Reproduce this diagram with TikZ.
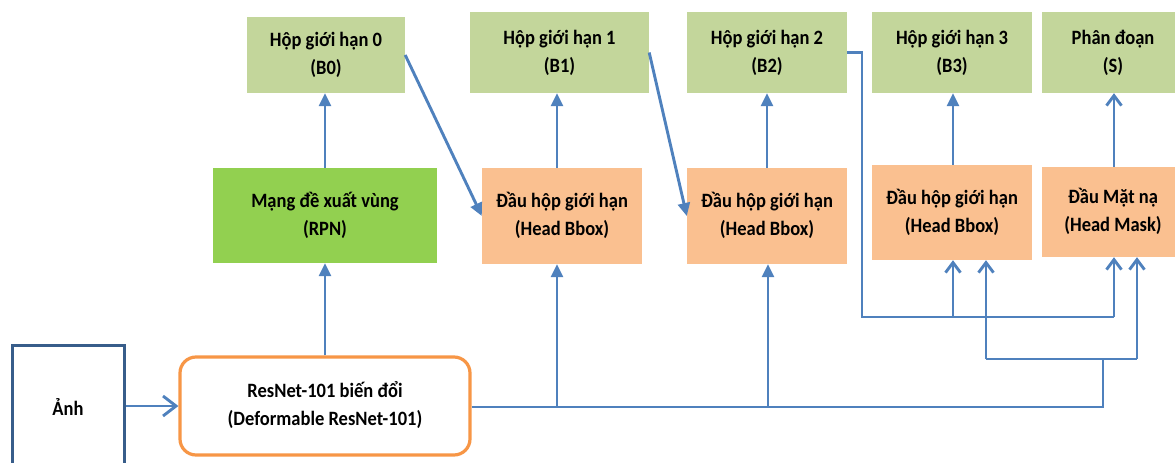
\documentclass[tikz,border=0pt]{standalone}
\usepackage{fontspec}
\setmainfont{Carlito}
\usetikzlibrary{arrows.meta,calc}
\definecolor{lgreen}{HTML}{C3D69B}
\definecolor{dgreen}{HTML}{92D050}
\definecolor{lorange}{HTML}{FAC090}
\definecolor{borange}{HTML}{F79646}
\definecolor{lblue}{HTML}{4F81BD}
\definecolor{dblue}{HTML}{385D8A}
\newcommand{\tx}[1]{\scalebox{1}[1.1]{\begin{tabular}{@{}c@{}}#1\end{tabular}}}
\tikzset{
  box/.style={rectangle, inner sep=0pt, align=center, font=\bfseries\fontsize{18.5}{25.5}\selectfont},
  outbox/.style={box, fill=lgreen},
  rpnbox/.style={box, fill=dgreen},
  headbox/.style={box, fill=lorange},
  conn/.style={draw=lblue, line width=2.9pt},
  tri/.style={conn, -{Triangle[length=13pt,width=12pt]}},
  barb/.style={conn, -{Straight Barb[length=10pt,width=15pt]}},
  bigbarb/.style={conn, -{Straight Barb[length=13pt,width=20pt]}}
}
\begin{document}
\begin{tikzpicture}[x=1pt,y=-1pt]
\useasboundingbox (0,0) rectangle (1175,463);
% top row
\node[outbox, minimum width=158, minimum height=76] (B0) at (326,55) {\tx{Hộp giới hạn 0\\(B0)}};
\node[outbox, minimum width=179, minimum height=81] (B1) at (559.5,52.5) {\tx{Hộp giới hạn 1\\(B1)}};
\node[outbox, minimum width=160, minimum height=81] (B2) at (767,52.5) {\tx{Hộp giới hạn 2\\(B2)}};
\node[outbox, minimum width=160, minimum height=81] (B3) at (952,52.5) {\tx{Hộp giới hạn 3\\(B3)}};
\node[outbox, minimum width=142, minimum height=81] (S) at (1113,52.5) {\tx{Phân đoạn\\(S)}};
% middle row
\node[rpnbox, minimum width=224, minimum height=95] (RPN) at (325,215.5) {\tx{Mạng đề xuất vùng\\(RPN)}};
\node[headbox, minimum width=160, minimum height=96] (HB1) at (562,216) {\tx{Đầu hộp giới hạn\\(Head Bbox)}};
\node[headbox, minimum width=160, minimum height=96] (HB2) at (767,216) {\tx{Đầu hộp giới hạn\\(Head Bbox)}};
\node[headbox, minimum width=160, minimum height=95] (HB3) at (952,212.5) {\tx{Đầu hộp giới hạn\\(Head Bbox)}};
\node[headbox, minimum width=142, minimum height=90] (Mask) at (1113,212) {\tx{Đầu Mặt nạ\\(Head Mask)}};
% bottom row
\node[box, draw=dblue, line width=3pt, fill=white, minimum width=112, minimum height=130] (Anh) at (68,410) {\tx{Ảnh}};
\node[box, draw=borange, line width=3.2pt, fill=white, rounded corners=16pt, minimum width=290, minimum height=98] (RN) at (325,406) {\tx{ResNet-101 biến đổi\\(Deformable ResNet-101)}};
% coordinates
\coordinate (x557) at (557,407);
\coordinate (x768) at (768,407);
\coordinate (j1) at (1103,407);
\coordinate (j2) at (1103,359);
\coordinate (p986) at (986,359);
\coordinate (p1137) at (1137,359);
\coordinate (r1) at (862,317);
\coordinate (q953) at (953,317);
\coordinate (q1114) at (1114,317);
% connectors
\draw[bigbarb] (Anh.east |- RN.west) -- (RN.west);
\draw[tri] (RN.north) -- (RPN.south);
\draw[tri] (RPN.north) -- (RPN.north |- B0.south);
\draw[tri] (B0.east) -- (HB1.west);
\draw[tri] (x557 |- HB1.north) -- (x557 |- B1.south);
\draw[tri] (B1.east) -- (HB2.west);
\draw[tri] (HB2.north) -- (B2.south);
\draw[tri] (q953 |- HB3.north) -- (q953 |- B3.south);
\draw[barb] (q1114 |- Mask.north) -- (q1114 |- S.south);
% backbone
\draw[conn] (RN.east |- j1) -- (j1) -- (j2);
\draw[tri] (x557) -- (x557 |- HB1.south);
\draw[tri] (x768) -- (x768 |- HB2.south);
\draw[conn] (p986) -- (p1137);
\draw[barb] (p986) -- (p986 |- HB3.south);
\draw[barb] (p1137) -- (p1137 |- Mask.south);
% B2 route
\draw[conn] (B2.east) -| (r1) -- (q1114);
\draw[barb] (q953) -- (q953 |- HB3.south);
\draw[barb] (q1114) -- (q1114 |- Mask.south);
\end{tikzpicture}
\end{document}
